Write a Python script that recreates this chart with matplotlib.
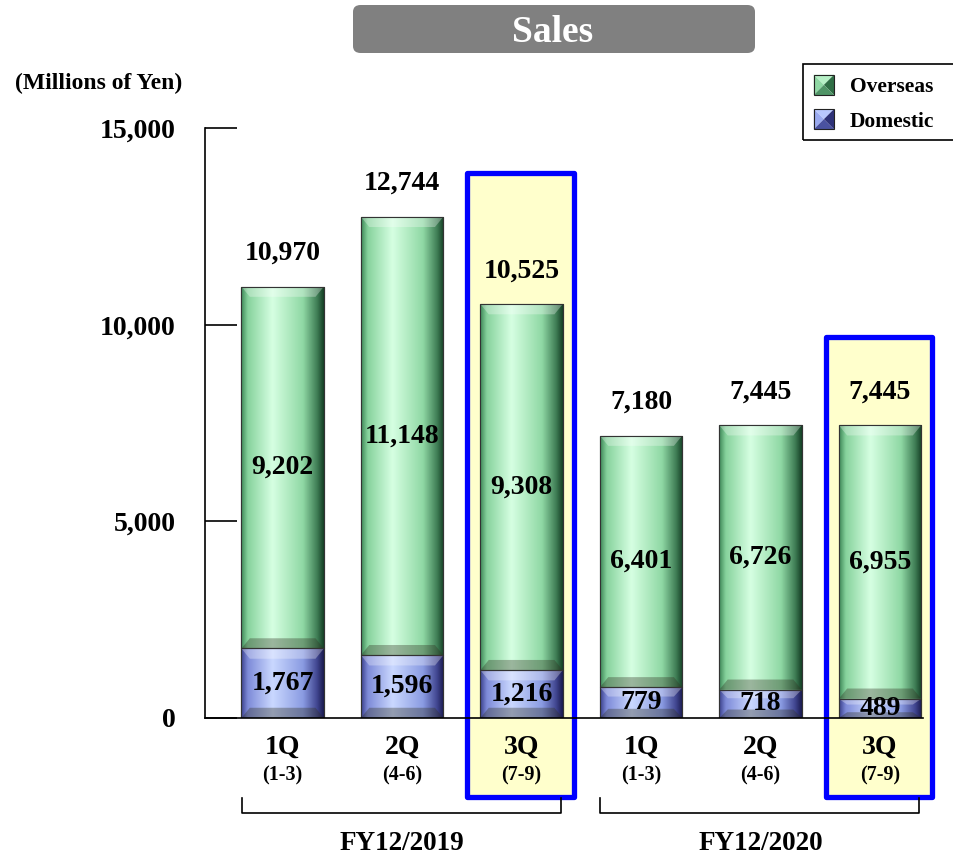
import numpy as np
import matplotlib
matplotlib.use('Agg')
import matplotlib.pyplot as plt
from matplotlib.colors import LinearSegmentedColormap
from matplotlib.patches import Rectangle, FancyBboxPatch, Polygon
from matplotlib.legend_handler import HandlerBase

plt.rcParams['font.family'] = ['Liberation Serif', 'DejaVu Serif']
plt.rcParams['font.weight'] = 'bold'

quarters = ['1Q', '2Q', '3Q', '1Q', '2Q', '3Q']
months = ['(1-3)', '(4-6)', '(7-9)', '(1-3)', '(4-6)', '(7-9)']
domestic = [1767, 1596, 1216, 779, 718, 489]
overseas = [9202, 11148, 9308, 6401, 6726, 6955]
totals = [10970, 12744, 10525, 7180, 7445, 7445]
years = ['FY12/2019', 'FY12/2020']
year_groups = [(0, 2), (3, 5)]
highlight = [2, 5]

x = np.arange(len(quarters))

fig = plt.figure(figsize=(9.54, 8.57), dpi=100)
ax = fig.add_axes([0.2149, 0.1622, 0.7526, 0.6884])

green_cmap = LinearSegmentedColormap.from_list('g', [
    (0.0, '#3c8656'), (0.08, '#86d29c'), (0.38, '#d6ffe2'),
    (0.75, '#8fd8a4'), (0.92, '#3f7d55'), (1.0, '#153f25')])
blue_cmap = LinearSegmentedColormap.from_list('b', [
    (0.0, '#3a3f8a'), (0.08, '#7d8ad8'), (0.38, '#cad8ff'),
    (0.75, '#8a9be2'), (0.92, '#40458f'), (1.0, '#1a1a4e')])
grad = np.linspace(0, 1, 256).reshape(1, -1)

# yellow highlight boxes
for i in highlight:
    top = 13860 if i == 2 else 9690
    ax.add_patch(Rectangle((i - 0.455, -2010), 0.89, top + 2010,
                           facecolor='#ffffcc', edgecolor='#0000ff', lw=3.8,
                           clip_on=False, zorder=0, joinstyle='round'))

w = 0.69
dom = ax.bar(x, domestic, w, color='#8a9be2', edgecolor='#303060', lw=0.8, zorder=2)
ovs = ax.bar(x, overseas, w, bottom=domestic, color='#8fd8a4',
             edgecolor='#2c5a3c', lw=0.8, zorder=2)

# gradient + bevel on every segment
for bars, cmap in [(dom, blue_cmap), (ovs, green_cmap)]:
    for b in bars:
        x0, y0 = b.get_x(), b.get_y()
        x1, y1 = x0 + b.get_width(), y0 + b.get_height()
        im = ax.imshow(grad, cmap=cmap, extent=[x0, x1, y0, y1],
                       aspect='auto', zorder=2.5, interpolation='bicubic')
        im.set_clip_path(b)
        dx = 0.07
        dy = min(260, b.get_height() * 0.3)
        ax.add_patch(Polygon([(x0, y1), (x1, y1), (x1 - dx, y1 - dy), (x0 + dx, y1 - dy)],
                             facecolor='white', alpha=0.3, lw=0, zorder=2.6))
        ax.add_patch(Polygon([(x0, y0), (x1, y0), (x1 - dx, y0 + dy), (x0 + dx, y0 + dy)],
                             facecolor='#303020', alpha=0.35, lw=0, zorder=2.6))
        ax.add_patch(Rectangle((x0, y0), b.get_width(), b.get_height(),
                               fill=False, edgecolor='#333333', lw=0.8, zorder=3))

for i in range(len(x)):
    ax.text(x[i], domestic[i] / 2, f'{domestic[i]:,}', ha='center', va='center',
            fontsize=20, fontweight='bold', zorder=4)
    ax.text(x[i], domestic[i] + overseas[i] / 2, f'{overseas[i]:,}', ha='center',
            va='center', fontsize=20, fontweight='bold', zorder=4)
    ax.annotate(f'{totals[i]:,}', (x[i], totals[i]), xytext=(0, 24),
                textcoords='offset points', ha='center', va='center',
                fontsize=20, fontweight='bold')

tr = ax.get_xaxis_transform()
for i in range(len(x)):
    ax.text(x[i], -0.049, quarters[i], transform=tr, ha='center', va='center',
            fontsize=20, fontweight='bold')
    ax.text(x[i], -0.098, months[i], transform=tr, ha='center', va='center',
            fontsize=14.5, fontweight='bold')

for (a, b), label in zip(year_groups, years):
    xl, xr = a - 0.34, b + 0.33
    ax.plot([xl, xl, xr, xr], [-0.136, -0.161, -0.161, -0.136], transform=tr,
            color='black', lw=1.2, clip_on=False)
    ax.text((a + b) / 2, -0.212, label, transform=tr, ha='center', va='center',
            fontsize=19.5, fontweight='bold')

ax.set_xlim(-0.65, 5.36)
ax.set_ylim(0, 15000)
ax.set_yticks([0, 5000, 10000, 15000])
ax.set_yticklabels(['0', '5,000', '10,000', '15,000'], fontsize=20, fontweight='bold')
ax.set_xticks([])
ax.tick_params(axis='y', direction='in', length=23, width=1.2, pad=21)
for s in ['top', 'right']:
    ax.spines[s].set_visible(False)
ax.spines['left'].set_linewidth(1.2)
ax.spines['bottom'].set_linewidth(1.2)
ax.spines['bottom'].set_zorder(3.5)

fig.text(15 / 954, 1 - 83 / 857, '(Millions of Yen)', ha='left', va='center',
         fontsize=17, fontweight='bold')

# title box
fig.patches.append(FancyBboxPatch((353 / 954, 1 - 53 / 857), 402 / 954, 48 / 857,
                                  boxstyle='round,pad=0,rounding_size=0.008',
                                  transform=fig.transFigure, facecolor='#808080',
                                  edgecolor='none'))
fig.text(553 / 954, 1 - 32 / 857, 'Sales', ha='center', va='center', color='white',
         fontsize=27, fontweight='bold')


class BevelHandler(HandlerBase):
    def __init__(self, cols):
        super().__init__()
        self.cols = cols

    def create_artists(self, legend, orig_handle, xd, yd, width, height, fontsize, trans):
        x0, y0 = -xd, -yd
        s = height
        cx, cy = x0 + s / 2, y0 + s / 2
        top, left, right, bottom = self.cols
        pts = [(x0, y0), (x0, y0 + s), (x0 + s, y0 + s), (x0 + s, y0)]
        arts = []
        for (p, q), c in zip([(1, 2), (0, 1), (2, 3), (3, 0)], [top, left, right, bottom]):
            arts.append(Polygon([pts[p], pts[q], (cx, cy)], facecolor=c, lw=0, transform=trans))
        arts.append(Rectangle((x0, y0), s, s, fill=False, edgecolor='#222222', lw=0.8,
                              transform=trans))
        return arts


h1 = Rectangle((0, 0), 1, 1)
h2 = Rectangle((0, 0), 1, 1)
leg = fig.legend([h1, h2], ['Overseas', 'Domestic'], loc='upper left',
                 bbox_to_anchor=(803 / 954, 1 - 64 / 857), frameon=False,
                 prop={'size': 15.5, 'weight': 'bold'}, handlelength=1.07, handleheight=1.07,
                 borderpad=0.5, labelspacing=0.55, handletextpad=0.6, borderaxespad=0,
                 handler_map={h1: BevelHandler(['#b6f0c6', '#8fd8a4', '#2f6e45', '#4f9466']),
                              h2: BevelHandler(['#b8c8ff', '#9aaaf0', '#2e3278', '#4a52a0'])})
fig.patches.append(Rectangle((803 / 954, 1 - 140 / 857), 160 / 954, 76 / 857,
                             transform=fig.transFigure, fill=False, edgecolor='black', lw=1.2))

fig.savefig('out.png', dpi=100)
